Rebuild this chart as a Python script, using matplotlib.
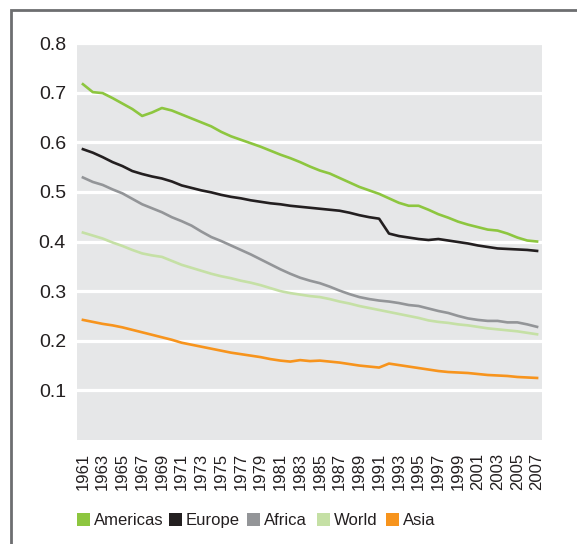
import matplotlib.pyplot as plt
from matplotlib.patches import Rectangle

years = list(range(1961, 2008))

americas = [0.717, 0.701, 0.699, 0.689, 0.678, 0.667, 0.653, 0.660, 0.669, 0.664,
            0.656, 0.648, 0.640, 0.632, 0.621, 0.612, 0.605, 0.598, 0.591, 0.583,
            0.575, 0.568, 0.560, 0.551, 0.543, 0.537, 0.528, 0.519, 0.510, 0.503,
            0.496, 0.487, 0.478, 0.472, 0.472, 0.464, 0.455, 0.448, 0.440, 0.434,
            0.429, 0.424, 0.422, 0.416, 0.408, 0.402, 0.400]
europe = [0.586, 0.579, 0.570, 0.560, 0.552, 0.542, 0.536, 0.531, 0.527, 0.521,
          0.513, 0.508, 0.503, 0.499, 0.494, 0.490, 0.487, 0.483, 0.480, 0.477,
          0.475, 0.472, 0.470, 0.468, 0.466, 0.464, 0.462, 0.458, 0.453, 0.449,
          0.446, 0.416, 0.411, 0.408, 0.405, 0.403, 0.405, 0.402, 0.399, 0.396,
          0.392, 0.389, 0.386, 0.385, 0.384, 0.383, 0.381]
africa = [0.529, 0.520, 0.514, 0.505, 0.497, 0.486, 0.475, 0.467, 0.459, 0.449,
          0.441, 0.432, 0.420, 0.409, 0.401, 0.392, 0.383, 0.374, 0.364, 0.354,
          0.344, 0.335, 0.327, 0.321, 0.316, 0.309, 0.301, 0.294, 0.288, 0.284,
          0.281, 0.279, 0.276, 0.272, 0.270, 0.265, 0.260, 0.256, 0.250, 0.245,
          0.242, 0.240, 0.240, 0.237, 0.237, 0.233, 0.228]
world = [0.418, 0.412, 0.406, 0.398, 0.391, 0.383, 0.376, 0.372, 0.369, 0.361,
         0.353, 0.347, 0.341, 0.335, 0.330, 0.326, 0.321, 0.317, 0.312, 0.306,
         0.300, 0.296, 0.293, 0.290, 0.288, 0.284, 0.279, 0.275, 0.270, 0.266,
         0.262, 0.258, 0.254, 0.250, 0.246, 0.241, 0.238, 0.236, 0.233, 0.231,
         0.228, 0.225, 0.223, 0.221, 0.219, 0.216, 0.213]
asia = [0.242, 0.238, 0.234, 0.231, 0.227, 0.222, 0.217, 0.212, 0.207, 0.202,
        0.196, 0.192, 0.188, 0.184, 0.180, 0.176, 0.173, 0.170, 0.167, 0.163,
        0.160, 0.158, 0.161, 0.159, 0.160, 0.158, 0.156, 0.153, 0.150, 0.148,
        0.146, 0.154, 0.151, 0.148, 0.145, 0.142, 0.139, 0.137, 0.136, 0.135,
        0.133, 0.131, 0.130, 0.129, 0.127, 0.126, 0.125]

names = ["Americas", "Europe", "Africa", "World", "Asia"]
colors = ["#8dc63f", "#231f20", "#939598", "#c5e0a5", "#f7941d"]

plt.rcParams["font.family"] = ["Liberation Sans", "DejaVu Sans"]
text_col = "#231f20"
W, H = 577, 544

fig = plt.figure(figsize=(5.77, 5.44), dpi=100)
ax = fig.add_axes([77/W, 1 - 440/H, 465/W, 397/H])
ax.set_facecolor("#e6e7e8")

for vals, c in zip([americas, europe, africa, world, asia], colors):
    ax.plot(years, vals, color=c, lw=1.9, zorder=3)

ax.set_ylim(0, 0.8)
ax.set_xlim(1960.4, 2007.5)
ax.set_yticks([0.1, 0.2, 0.3, 0.4, 0.5, 0.6, 0.7, 0.8])
ax.set_yticklabels(["0.1", "0.2", "0.3", "0.4", "0.5", "0.6", "0.7", "0.8"], fontsize=14, color=text_col)
ax.set_xticks(years[::2])
ax.set_xticklabels([str(y) for y in years[::2]], rotation=90, fontsize=12, color=text_col)
ax.tick_params(axis="y", length=0, pad=8)
ax.tick_params(axis="x", length=0, pad=9)
ax.yaxis.grid(True, color="white", lw=2.3)
ax.set_axisbelow(True)
for s in ax.spines.values():
    s.set_visible(False)

# legend drawn by hand so that the entries sit where they sit in the original
leg_x = [77, 169, 247, 317, 386]
leg_y = 519
for x, name, c in zip(leg_x, names, colors):
    fig.add_artist(Rectangle((x/W, (H - leg_y - 6.5)/H), 13/W, 13/H,
                             transform=fig.transFigure, fc=c, ec="none"))
    fig.text((x + 17)/W, (H - leg_y - 6)/H, name, fontsize=12, color=text_col,
             va="baseline", ha="left")

fig.add_artist(Rectangle((11/W, -0.1), 1.2, 1 - 10/H + 0.1, transform=fig.transFigure,
                         fill=False, ec="#6d6e70", lw=2, clip_on=False))

plt.savefig("out.png", dpi=100)
